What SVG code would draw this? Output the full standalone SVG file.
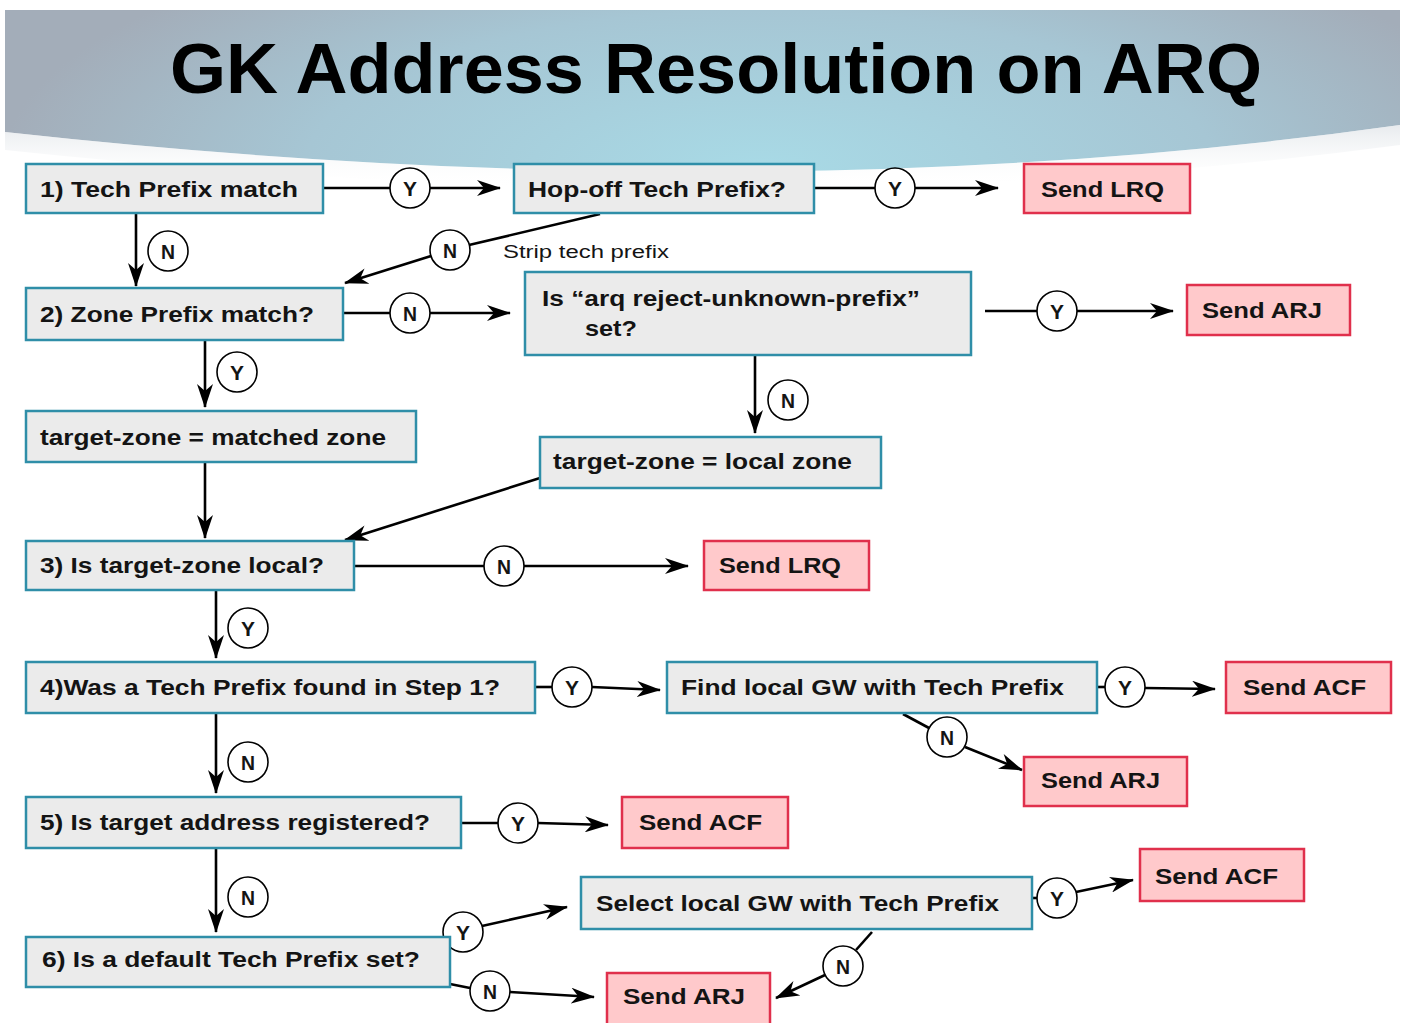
<svg xmlns="http://www.w3.org/2000/svg" width="1404" height="1023" viewBox="0 0 1404 1023">
<defs>
<radialGradient id="hdr" cx="760" cy="170" r="760" gradientUnits="userSpaceOnUse" gradientTransform="translate(760 170) scale(1 0.35) translate(-760 -170)">
<stop offset="0" stop-color="#a8dae6"/>
<stop offset="0.6" stop-color="#a6c6d4"/>
<stop offset="1" stop-color="#a3adb9"/>
</radialGradient>
<linearGradient id="shade" x1="0" y1="0" x2="0" y2="1">
<stop offset="0" stop-color="#d8dde2"/>
<stop offset="1" stop-color="#ffffff" stop-opacity="0"/>
</linearGradient>
<marker id="ah" viewBox="0 0 24 16" refX="23" refY="8" markerWidth="24" markerHeight="16" markerUnits="userSpaceOnUse" orient="auto">
<path d="M0,0 L24,8 L0,16 L7,8 Z" fill="#000"/>
</marker>
<style>
.g rect{fill:#ebebeb;stroke:#2f8ea8;stroke-width:2.5}
.r rect{fill:#ffc9cb;stroke:#e0304c;stroke-width:2.5}
text{font-family:"Liberation Sans",Arial,sans-serif;font-weight:bold;font-size:22px;fill:#141414}
.c circle{fill:#fff;stroke:#000;stroke-width:1.6}
.c text{font-size:21px;text-anchor:middle}
#edges line{stroke:#000;stroke-width:2.6;fill:none}
.arr{marker-end:url(#ah)}
</style>
</defs>
<rect width="1404" height="1023" fill="#fff"/>
<path d="M5,10 H1400 V125 Q760,215 5,132 Z" fill="url(#hdr)"/>
<path d="M5,132 Q760,215 1400,125 L1400,145 Q760,230 5,150 Z" fill="url(#shade)" opacity="0.6"/>
<text x="170" y="93" style="font-size:70px;font-weight:bold;fill:#000" textLength="1092" lengthAdjust="spacingAndGlyphs">GK Address Resolution on ARQ</text>

<g id="edges">
<line x1="323" y1="188" x2="390" y2="188"/>
<line class="arr" x1="430" y1="188" x2="500" y2="188"/>
<line x1="814" y1="188" x2="875" y2="188"/>
<line class="arr" x1="915" y1="188" x2="998" y2="188"/>
<line class="arr" x1="136" y1="213" x2="136" y2="286"/>
<line x1="600" y1="214" x2="469" y2="245"/>
<line class="arr" x1="431" y1="256" x2="345" y2="283"/>
<line x1="343" y1="313" x2="390" y2="313"/>
<line class="arr" x1="430" y1="313" x2="510" y2="313"/>
<line x1="985" y1="311" x2="1037" y2="311"/>
<line class="arr" x1="1077" y1="311" x2="1173" y2="311"/>
<line class="arr" x1="205" y1="340" x2="205" y2="407"/>
<line class="arr" x1="755" y1="355" x2="755" y2="433"/>
<line class="arr" x1="205" y1="462" x2="205" y2="538"/>
<line class="arr" x1="540" y1="478" x2="345" y2="540"/>
<line x1="354" y1="566" x2="484" y2="566"/>
<line class="arr" x1="524" y1="566" x2="688" y2="566"/>
<line class="arr" x1="216" y1="590" x2="216" y2="658"/>
<line x1="535" y1="687" x2="552" y2="687"/>
<line class="arr" x1="592" y1="687" x2="660" y2="690"/>
<line x1="1097" y1="687" x2="1105" y2="687"/>
<line class="arr" x1="1145" y1="688" x2="1215" y2="689"/>
<line x1="903" y1="714" x2="929" y2="728"/>
<line class="arr" x1="965" y1="747" x2="1022" y2="770"/>
<line class="arr" x1="216" y1="713" x2="216" y2="793"/>
<line x1="445" y1="823" x2="498" y2="823"/>
<line class="arr" x1="538" y1="823" x2="608" y2="825"/>
<line class="arr" x1="216" y1="848" x2="216" y2="932"/>
<line class="arr" x1="482" y1="926" x2="567" y2="907"/>
<line x1="1032" y1="898" x2="1037" y2="898"/>
<line class="arr" x1="1076" y1="892" x2="1133" y2="880"/>
<line x1="872" y1="932" x2="856" y2="950"/>
<line class="arr" x1="825" y1="975" x2="776" y2="998"/>
<line x1="450" y1="984" x2="470" y2="988"/>
<line class="arr" x1="510" y1="992" x2="594" y2="997"/>
</g>

<text x="503" y="258" style="font-weight:normal;font-size:18px" textLength="166" lengthAdjust="spacingAndGlyphs">Strip tech prefix</text>

<g class="c">
<g><circle cx="410" cy="188" r="20"/><text x="410" y="196" textLength="14" lengthAdjust="spacingAndGlyphs">Y</text></g>
<g><circle cx="895" cy="188" r="20"/><text x="895" y="196" textLength="14" lengthAdjust="spacingAndGlyphs">Y</text></g>
<g><circle cx="168" cy="251" r="20"/><text x="168" y="259" textLength="14" lengthAdjust="spacingAndGlyphs">N</text></g>
<g><circle cx="450" cy="250" r="20"/><text x="450" y="258" textLength="14" lengthAdjust="spacingAndGlyphs">N</text></g>
<g><circle cx="410" cy="313" r="20"/><text x="410" y="321" textLength="14" lengthAdjust="spacingAndGlyphs">N</text></g>
<g><circle cx="1057" cy="311" r="20"/><text x="1057" y="319" textLength="14" lengthAdjust="spacingAndGlyphs">Y</text></g>
<g><circle cx="237" cy="372" r="20"/><text x="237" y="380" textLength="14" lengthAdjust="spacingAndGlyphs">Y</text></g>
<g><circle cx="788" cy="400" r="20"/><text x="788" y="408" textLength="14" lengthAdjust="spacingAndGlyphs">N</text></g>
<g><circle cx="504" cy="566" r="20"/><text x="504" y="574" textLength="14" lengthAdjust="spacingAndGlyphs">N</text></g>
<g><circle cx="248" cy="628" r="20"/><text x="248" y="636" textLength="14" lengthAdjust="spacingAndGlyphs">Y</text></g>
<g><circle cx="572" cy="687" r="20"/><text x="572" y="695" textLength="14" lengthAdjust="spacingAndGlyphs">Y</text></g>
<g><circle cx="1125" cy="687" r="20"/><text x="1125" y="695" textLength="14" lengthAdjust="spacingAndGlyphs">Y</text></g>
<g><circle cx="947" cy="737" r="20"/><text x="947" y="745" textLength="14" lengthAdjust="spacingAndGlyphs">N</text></g>
<g><circle cx="248" cy="762" r="20"/><text x="248" y="770" textLength="14" lengthAdjust="spacingAndGlyphs">N</text></g>
<g><circle cx="518" cy="823" r="20"/><text x="518" y="831" textLength="14" lengthAdjust="spacingAndGlyphs">Y</text></g>
<g><circle cx="248" cy="897" r="20"/><text x="248" y="905" textLength="14" lengthAdjust="spacingAndGlyphs">N</text></g>
<g><circle cx="463" cy="932" r="20"/><text x="463" y="940" textLength="14" lengthAdjust="spacingAndGlyphs">Y</text></g>
<g><circle cx="1057" cy="898" r="20"/><text x="1057" y="906" textLength="14" lengthAdjust="spacingAndGlyphs">Y</text></g>
<g><circle cx="843" cy="966" r="20"/><text x="843" y="974" textLength="14" lengthAdjust="spacingAndGlyphs">N</text></g>
<g><circle cx="490" cy="991" r="20"/><text x="490" y="999" textLength="14" lengthAdjust="spacingAndGlyphs">N</text></g>
</g>

<g id="n1" class="g"><rect x="26" y="164" width="297" height="49"/><text x="40" y="197" textLength="258" lengthAdjust="spacingAndGlyphs">1) Tech Prefix match</text></g>
<g id="n2" class="g"><rect x="514" y="164" width="300" height="49"/><text x="528" y="197" textLength="258" lengthAdjust="spacingAndGlyphs">Hop-off Tech Prefix?</text></g>
<g id="n3" class="r"><rect x="1024" y="164" width="166" height="49"/><text x="1041" y="197" textLength="123" lengthAdjust="spacingAndGlyphs">Send LRQ</text></g>
<g id="n4" class="g"><rect x="26" y="288" width="317" height="52"/><text x="40" y="322" textLength="274" lengthAdjust="spacingAndGlyphs">2) Zone Prefix match?</text></g>
<g id="n5" class="g"><rect x="525" y="272" width="446" height="83"/><text x="542" y="306" textLength="378" lengthAdjust="spacingAndGlyphs">Is “arq reject-unknown-prefix”</text><text x="585" y="336" textLength="52" lengthAdjust="spacingAndGlyphs">set?</text></g>
<g id="n6" class="r"><rect x="1187" y="285" width="163" height="50"/><text x="1202" y="318" textLength="120" lengthAdjust="spacingAndGlyphs">Send ARJ</text></g>
<g id="n7" class="g"><rect x="26" y="411" width="390" height="51"/><text x="40" y="445" textLength="346" lengthAdjust="spacingAndGlyphs">target-zone = matched zone</text></g>
<g id="n8" class="g"><rect x="540" y="437" width="341" height="51"/><text x="553" y="469" textLength="299" lengthAdjust="spacingAndGlyphs">target-zone = local zone</text></g>
<g id="n9" class="g"><rect x="26" y="541" width="328" height="49"/><text x="40" y="573" textLength="284" lengthAdjust="spacingAndGlyphs">3) Is target-zone local?</text></g>
<g id="n10" class="r"><rect x="704" y="541" width="165" height="49"/><text x="719" y="573" textLength="122" lengthAdjust="spacingAndGlyphs">Send LRQ</text></g>
<g id="n11" class="g"><rect x="26" y="662" width="509" height="51"/><text x="40" y="695" textLength="460" lengthAdjust="spacingAndGlyphs">4)Was a Tech Prefix found in Step 1?</text></g>
<g id="n12" class="g"><rect x="667" y="662" width="430" height="51"/><text x="681" y="695" textLength="383" lengthAdjust="spacingAndGlyphs">Find local GW with Tech Prefix</text></g>
<g id="n13" class="r"><rect x="1226" y="662" width="165" height="51"/><text x="1243" y="695" textLength="123" lengthAdjust="spacingAndGlyphs">Send ACF</text></g>
<g id="n14" class="r"><rect x="1024" y="757" width="163" height="49"/><text x="1041" y="788" textLength="119" lengthAdjust="spacingAndGlyphs">Send ARJ</text></g>
<g id="n15" class="g"><rect x="26" y="797" width="435" height="51"/><text x="40" y="830" textLength="390" lengthAdjust="spacingAndGlyphs">5) Is target address registered?</text></g>
<g id="n16" class="r"><rect x="622" y="797" width="166" height="51"/><text x="639" y="830" textLength="123" lengthAdjust="spacingAndGlyphs">Send ACF</text></g>
<g id="n17" class="r"><rect x="1140" y="849" width="164" height="52"/><text x="1155" y="884" textLength="123" lengthAdjust="spacingAndGlyphs">Send ACF</text></g>
<g id="n18" class="g"><rect x="581" y="877" width="451" height="52"/><text x="596" y="911" textLength="403" lengthAdjust="spacingAndGlyphs">Select local GW with Tech Prefix</text></g>
<g id="n19" class="g"><rect x="26" y="937" width="424" height="50"/><text x="42" y="967" textLength="378" lengthAdjust="spacingAndGlyphs">6) Is a default Tech Prefix set?</text></g>
<g id="n20" class="r"><rect x="607" y="973" width="163" height="52"/><text x="623" y="1004" textLength="122" lengthAdjust="spacingAndGlyphs">Send ARJ</text></g>
</svg>
